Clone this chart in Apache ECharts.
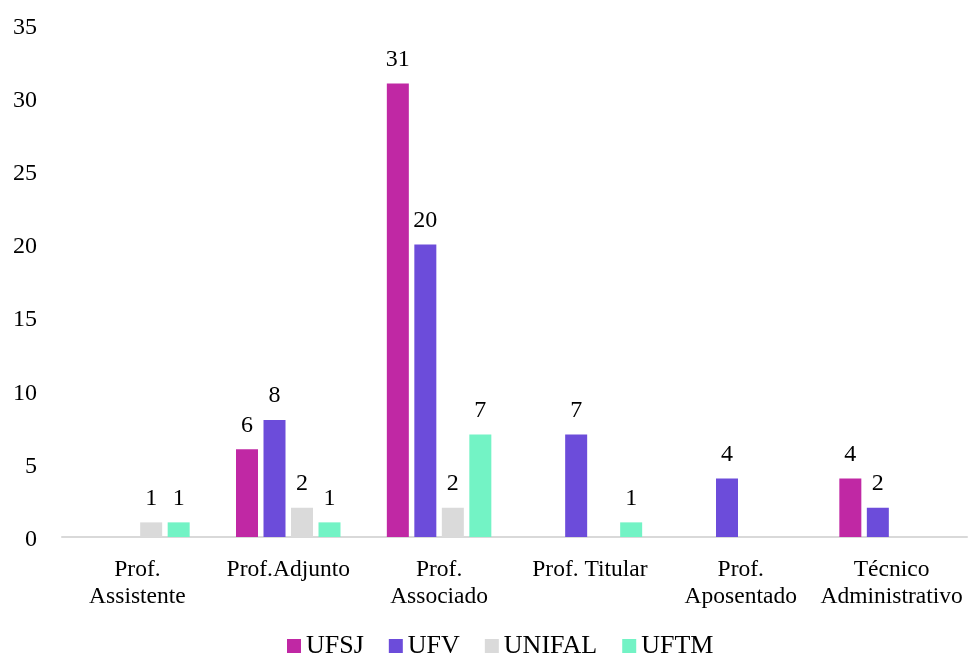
<!DOCTYPE html>
<html><head><meta charset="utf-8">
<script src="https://cdn.jsdelivr.net/npm/echarts@6/dist/echarts.min.js"></script>
<style>html,body{margin:0;padding:0;background:#fff}#c{width:969px;height:655px}</style>
</head><body><div id="c"></div>
<script>
var categories = ['Prof.\nAssistente', 'Prof.Adjunto', 'Prof.\nAssociado', 'Prof. Titular', 'Prof.\nAposentado', 'Técnico\nAdministrativo'];
var seriesNames = ['UFSJ', 'UFV', 'UNIFAL', 'UFTM'];
var ufsj = [0, 6, 31, 0, 0, 4];
var ufv = [0, 8, 20, 7, 4, 2];
var unifal = [1, 2, 2, 0, 0, 0];
var uftm = [1, 1, 7, 1, 0, 0];
var yTicks = {min: 0, max: 35, interval: 5};
var colors = ['#C028A4', '#6C4CDA', '#DADADA', '#73F3C5'];
var dataSets = [ufsj, ufv, unifal, uftm];
var font = '"Liberation Serif", "Times New Roman", serif';
var chart = echarts.init(document.getElementById('c'));
chart.setOption({
  animation: false,
  textStyle: {fontFamily: font},
  grid: {left: 62, right: 2, top: 25, bottom: 118},
  legend: {
    bottom: -9, left: 282, itemWidth: 14, itemHeight: 14, itemGap: 25,
    icon: 'rect',
    textStyle: {fontFamily: font, fontSize: 26, color: '#000'},
    data: seriesNames
  },
  xAxis: {
    type: 'category', data: categories,
    axisLine: {lineStyle: {color: '#d9d9d9', width: 2}},
    axisTick: {show: false},
    axisLabel: {fontFamily: font, fontSize: 23.5, color: '#000', margin: 19, lineHeight: 27, interval: 0}
  },
  yAxis: {
    type: 'value', min: yTicks.min, max: yTicks.max, interval: yTicks.interval,
    splitLine: {show: false},
    axisLine: {show: false}, axisTick: {show: false},
    axisLabel: {fontFamily: font, fontSize: 24, color: '#000', margin: 25, padding: [0, 0, 0, 0], lineHeight: 24, verticalAlign: 'middle', rich: {}, formatter: function (v) { return '{a|' + v + '}'; }}
  },
  series: seriesNames.map(function (n, i) {
    return {
      name: n, type: 'bar', data: dataSets[i], barWidth: 22, barGap: '25%',
      itemStyle: {color: colors[i]},
      label: {
        show: true, position: 'top', distance: 12,
        fontFamily: font, fontSize: 24, color: '#000',
        formatter: function (p) { return p.value ? String(p.value) : ''; }
      }
    };
  })
});
chart.setOption({yAxis: {axisLabel: {rich: {a: {fontFamily: font, fontSize: 24, color: '#000', padding: [5, 0, 0, 0]}}}}});
</script></body></html>
